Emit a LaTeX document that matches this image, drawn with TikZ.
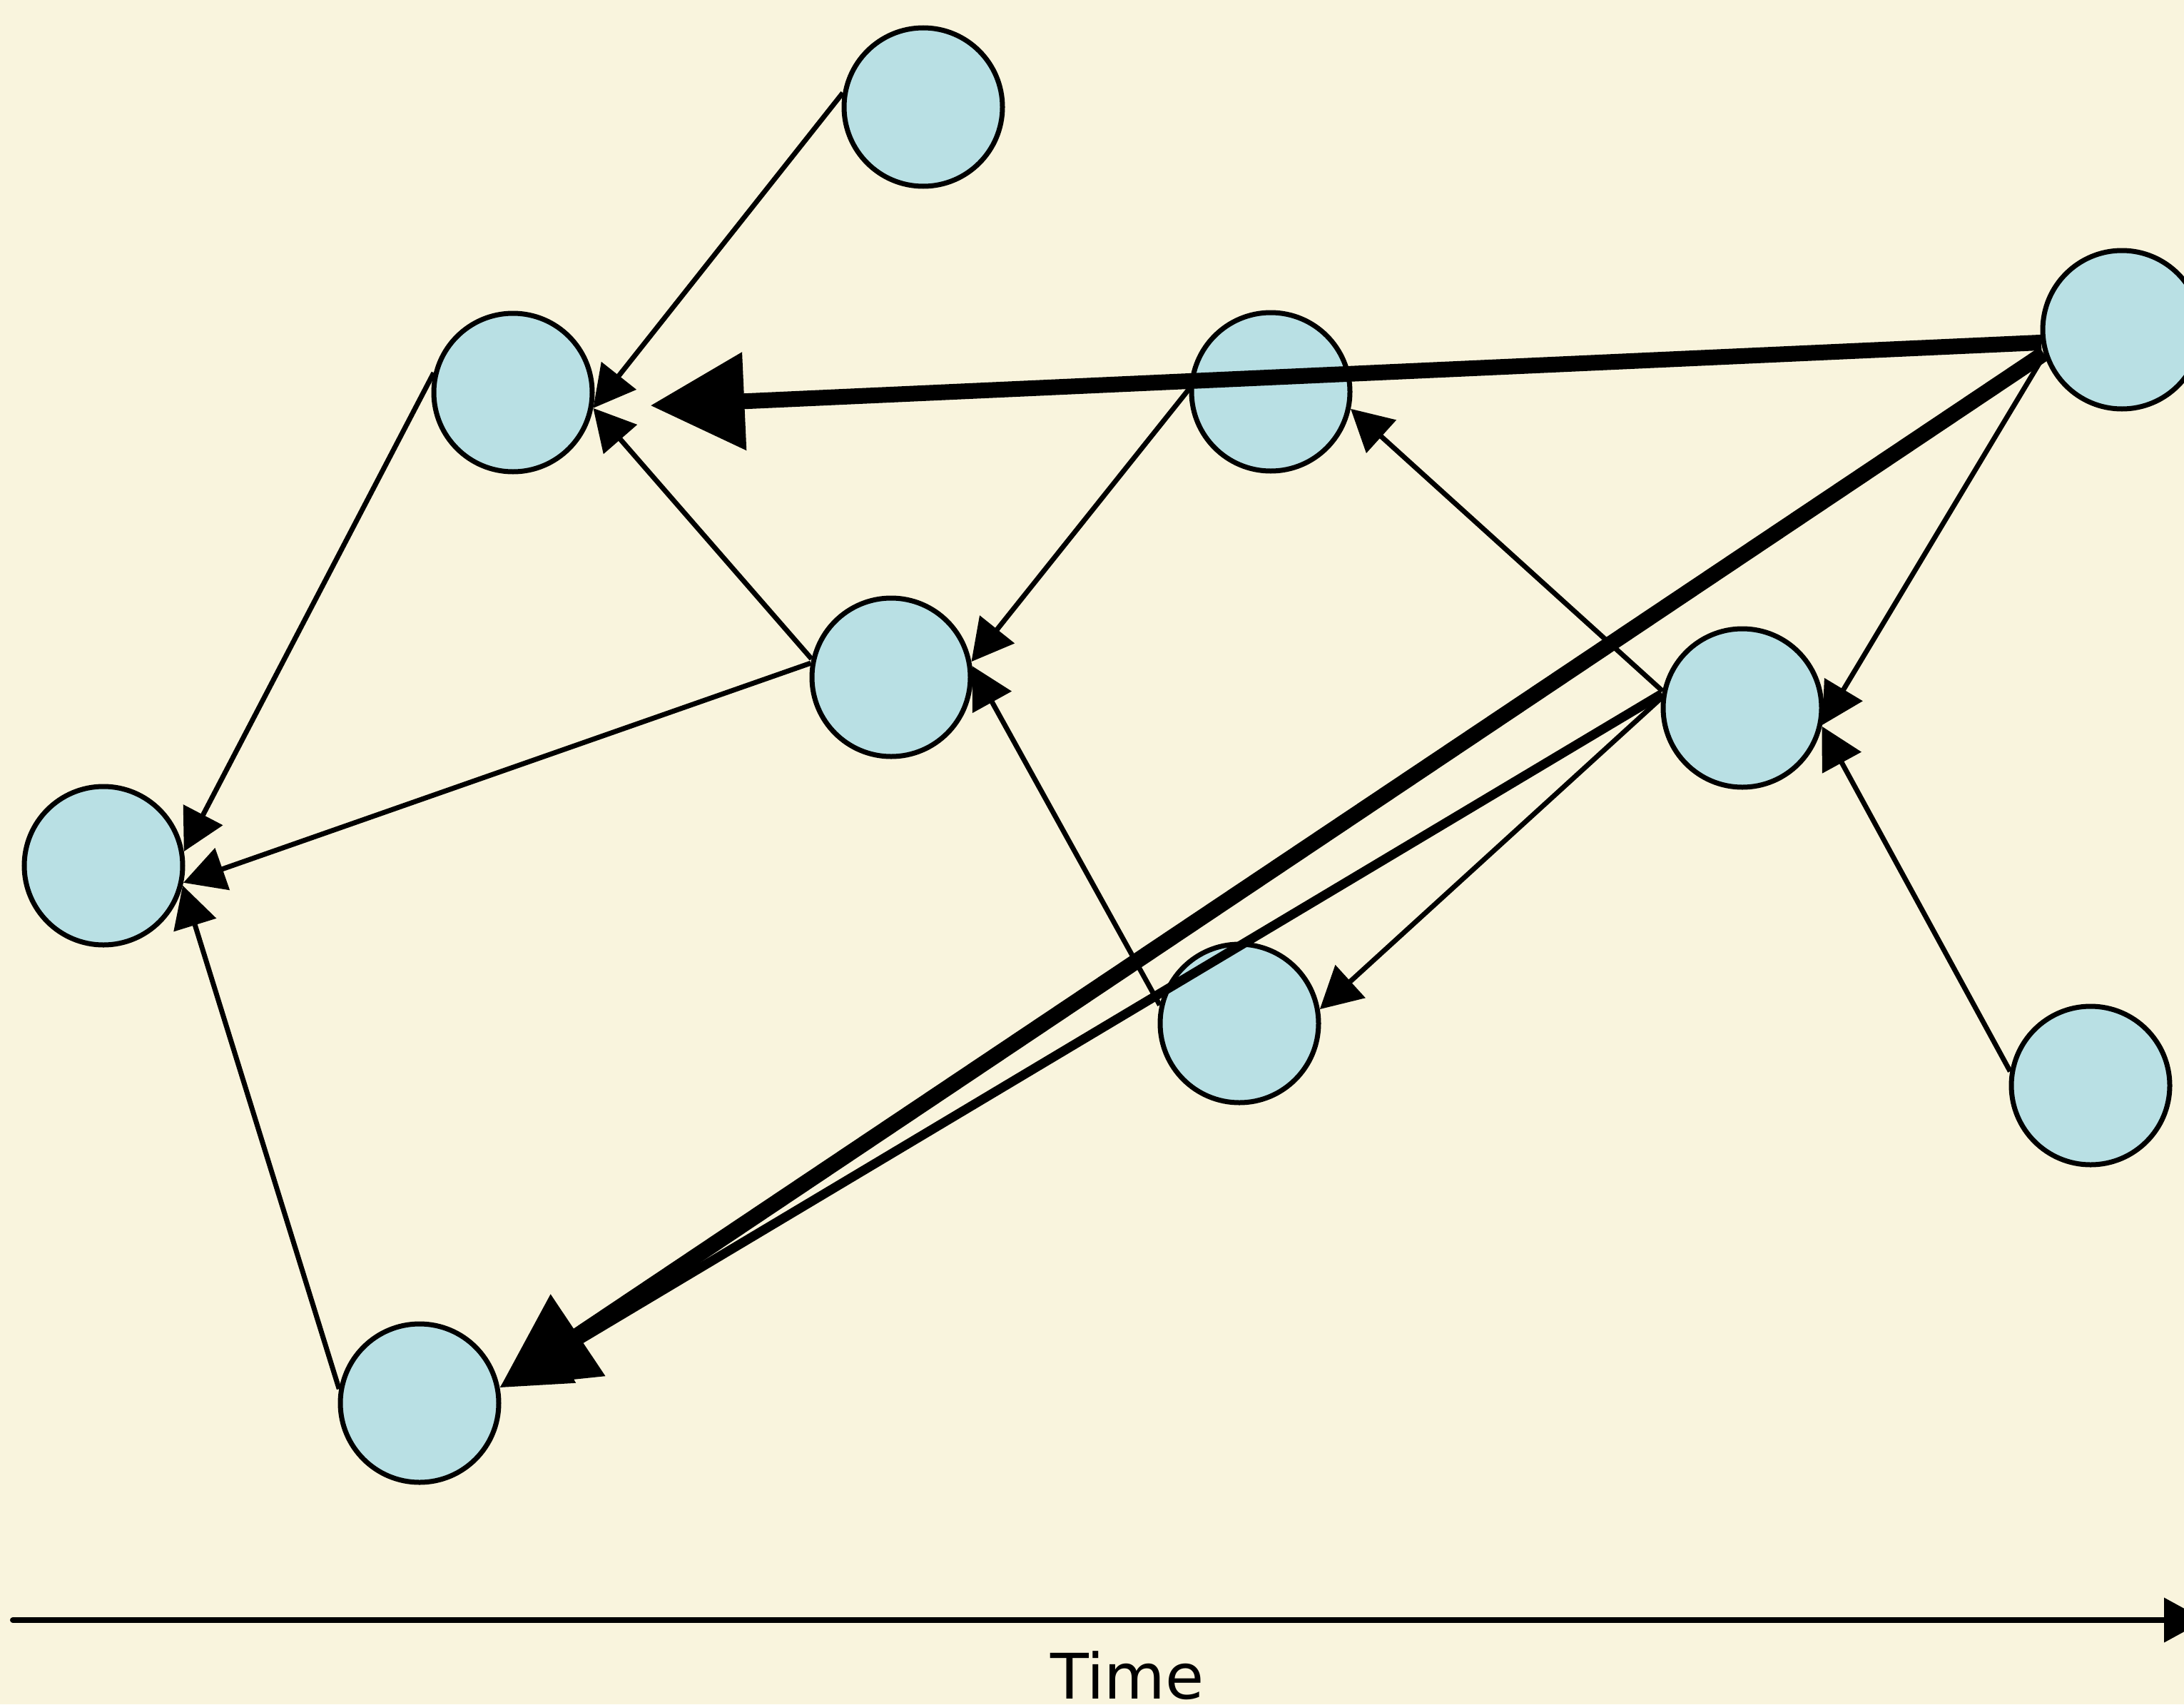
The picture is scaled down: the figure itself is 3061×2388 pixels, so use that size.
\documentclass[tikz,border=0pt]{standalone}
\usepackage{fontspec}
\setmainfont{DejaVu Sans}
\usetikzlibrary{arrows.meta}
\definecolor{paper}{RGB}{249,244,221}
\definecolor{nodefill}{RGB}{185,224,228}
\begin{document}
\begin{tikzpicture}[x=0.25pt,y=-0.25pt,
  event/.style={circle,draw=black,line width=1.75pt,fill=nodefill,
                minimum size=55.5pt,inner sep=0pt},
  link/.style={line width=1.75pt,-{Triangle[length=14.5pt,width=15.25pt]}},
  midlink/.style={line width=3.25pt,-{Triangle[length=23.75pt,width=23.75pt]}},
  heavylink/.style={line width=5.5pt,-{Triangle[length=33pt,width=33pt]}},
  axisline/.style={line width=2pt,line cap=round,-{Triangle[length=14.5pt,width=15.25pt]}},
]
% canvas
\useasboundingbox (0,0) rectangle (3061,2388);
\fill[paper] (0,0) rectangle (3061,2388);
\clip (0,0) rectangle (3061,2388);

% events
\node[event] (A) at (1294,150) {};
\node[event] (B) at (719,550) {};
\node[event] (C) at (1781,549) {};
\node[event] (D) at (1249,949) {};
\node[event] (E) at (145,1213) {};
\node[event] (F) at (2974,462) {};
\node[event] (G) at (2442,992) {};
\node[event] (H) at (1737,1434) {};
\node[event] (I) at (2930,1521) {};
\node[event] (J) at (588,1966) {};

% dependencies
\draw[link] (A.170) -- (B.-11);
\draw[link] (B.166) -- (E.10);
\draw[link] (D.167) -- (B.-11);
\draw[link] (D.170) -- (E.-12);
\draw[link] (C.178) -- (D.11);
\draw[link] (H.167) -- (D.8);
\draw[link] (J.170) -- (E.-14);
\draw[heavylink,shorten >=20pt] (F.189) -- (B.-11);
\draw[midlink] (G.170) -- (J.11);
\draw[heavylink] (F.197) -- (J.11);
\draw[link] (F.198) -- (G.-12);
\draw[link] (G.168) -- (C.-12);
\draw[link] (G.173) -- (H.10);
\draw[link] (I.170) -- (G.-13);

% time axis
\coordinate (t0) at (18,2270);
\coordinate (t1) at (3091,2270);
\draw[axisline] (t0) -- (t1);
\node[anchor=base,font=\fontsize{22}{26}\selectfont,inner sep=0pt] (timelabel) at (1580,2380) {Time};
\end{tikzpicture}
\end{document}
